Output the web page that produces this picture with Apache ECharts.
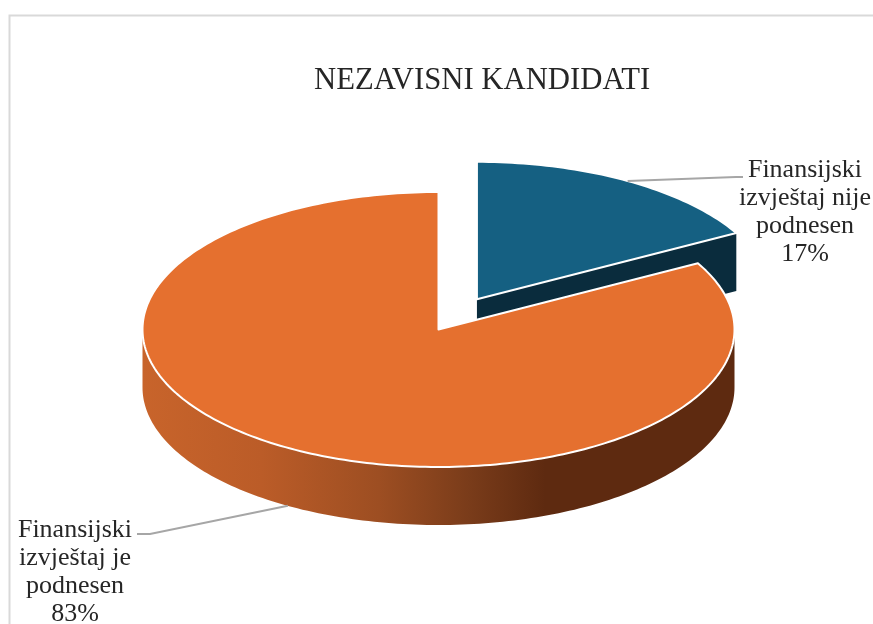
<!DOCTYPE html>
<html>
<head>
<meta charset="utf-8">
<title>NEZAVISNI KANDIDATI</title>
<style>
html, body { margin: 0; padding: 0; background: #fff; }
#chart { width: 873px; height: 624px; }
</style>
<script src="https://cdn.jsdelivr.net/npm/echarts@6/dist/echarts.min.js"></script>
</head>
<body>
<div id="chart"></div>
<script>
var chartTitle = 'NEZAVISNI KANDIDATI';
var categories = ['Finansijski\nizvještaj nije\npodnesen', 'Finansijski\nizvještaj je\npodnesen'];
var values = [17, 83];

// tilted pie layout, ellipse radii and wall height in px
var cx = 438.5, cy = 329.5, rx = 296, ry = 137.5, depth = 58;
var explode = [0.255, 0];
var topColors = ['#156082', '#e5702f'];
var wallColors = ['#0a2c3d', '#5e2a10'];
var labelPos = [[805, 212], [75, 572.5]];
var leaderStart = [[743, 177], [137, 534]];
var leaderKnee = [[736, 177], [150, 534]];
var total = values[0] + values[1];

// t is the clockwise angle from the top of the pie
function pt(c, t, z) {
  return [c[0] + rx * Math.sin(t), c[1] - ry * Math.cos(t) + (z || 0)];
}
function arc(c, a, b, z) {
  var pts = [];
  var n = Math.ceil(Math.abs(b - a) / 0.02);
  for (var i = 0; i <= n; i++) {
    pts.push(pt(c, a + (b - a) * i / n, z));
  }
  return pts;
}

function renderSlice(params, api) {
  var i = params.dataIndex;
  var before = 0;
  for (var k = 0; k < i; k++) before += values[k];
  var a = before / total * Math.PI * 2;
  var b = (before + api.value(0)) / total * Math.PI * 2;
  var mid = (a + b) / 2;
  var c = [cx + explode[i] * rx * Math.sin(mid), cy - explode[i] * ry * Math.cos(mid)];
  var kids = [];

  // radial wall, only the one that faces the viewer
  if (b < Math.PI) {
    var e = pt(c, b);
    kids.push({
      type: 'polygon',
      shape: { points: [c, e, [e[0], e[1] + depth], [c[0], c[1] + depth]] },
      style: { fill: wallColors[i] }
    });
  }

  // outer rim, front half of the ellipse
  var from = Math.max(a, Math.PI / 2), to = Math.min(b, Math.PI * 1.5);
  if (to > from) {
    var rim = arc(c, from, to, 0).concat(arc(c, to, from, depth));
    kids.push({
      type: 'polygon',
      shape: { points: rim },
      style: {
        fill: new echarts.graphic.LinearGradient(cx - rx, 0, cx + rx, 0, [
          { offset: 0, color: '#c8642b' },
          { offset: 0.2, color: '#bb5c28' },
          { offset: 0.4, color: '#9d4e22' },
          { offset: 0.55, color: '#7a3c1a' },
          { offset: 0.68, color: '#5e2a10' },
          { offset: 1, color: '#5e2a10' }
        ], true)
      }
    });
  }

  // top face
  kids.push({
    type: 'polygon',
    shape: { points: [c].concat(arc(c, a, b, 0)) },
    style: { fill: topColors[i], stroke: '#fff', lineWidth: 2, lineJoin: 'round' }
  });

  // leader line goes to the middle of the slice edge
  var onFront = mid > Math.PI / 2 && mid < Math.PI * 1.5;
  kids.push({
    type: 'polyline',
    shape: { points: [leaderStart[i], leaderKnee[i], pt(c, mid, onFront ? depth : 0)] },
    style: { fill: null, stroke: '#a6a6a6', lineWidth: 2 }
  });

  kids.push({
    type: 'text',
    style: {
      text: categories[i] + '\n' + api.value(0) + '%',
      x: labelPos[i][0],
      y: labelPos[i][1],
      align: 'center',
      verticalAlign: 'middle',
      font: '26px "Liberation Serif"',
      lineHeight: 28,
      fill: '#262626'
    }
  });
  return { type: 'group', children: kids };
}

var myChart = echarts.init(document.getElementById('chart'));
myChart.setOption({
  animation: false,
  backgroundColor: '#fff',
  title: {
    text: chartTitle,
    left: 314,
    top: 65,
    padding: 0,
    textStyle: { fontFamily: 'Liberation Serif', fontSize: 30.7, fontWeight: 'normal', color: '#262626' }
  },
  graphic: [{
    type: 'rect',
    silent: true,
    shape: { x: 9.5, y: 15.5, width: 900, height: 700 },
    style: { fill: null, stroke: '#d9d9d9', lineWidth: 2 }
  }],
  series: [{
    type: 'custom',
    coordinateSystem: 'none',
    renderItem: renderSlice,
    data: values.map(function (v) { return [v]; })
  }]
});
</script>
</body>
</html>
